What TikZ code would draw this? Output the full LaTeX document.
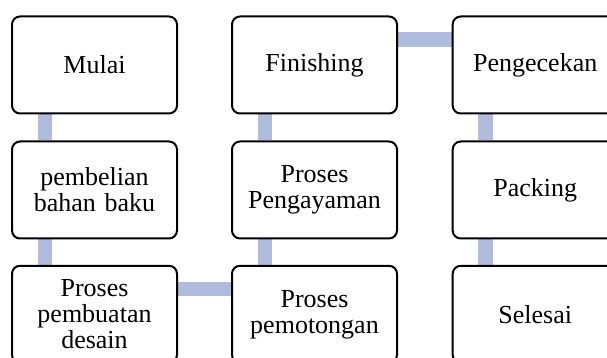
\documentclass[tikz,border=0pt]{standalone}
\usepackage{fontspec}
\setmainfont{Liberation Serif}
\usetikzlibrary{backgrounds}
\begin{document}
\begin{tikzpicture}[x=1pt,y=1pt,
  stepbox/.style={draw=black, line width=2pt, rounded corners=8pt, fill=white,
    minimum width=165pt, minimum height=97pt, inner sep=0pt,
    text width=160pt, align=center,
    font=\fontsize{26pt}{26pt}\selectfont},
  link/.style={draw={rgb,255:red,176;green,188;blue,222}, line width=14.4pt}]
  \useasboundingbox (0,0) rectangle (607,358);
  \clip (0,0) rectangle (607,358);

  % column 1
  \node[stepbox] (mulai)   at (94.5,293)   {Mulai};
  \node[stepbox] (beli)    at (94.5,168)   {pembelian\\bahan baku};
  \node[stepbox] (desain)  at (94.5,43.7)  {Proses\\pembuatan\\desain};
  % column 2
  \node[stepbox] (potong)  at (314.5,43.7) {Proses\\pemotongan};
  \node[stepbox] (ayam)    at (314.5,168)  {Proses\\Pengayaman};
  \node[stepbox] (finish)  at (314.5,293)  {Finishing};
  % column 3
  \node[stepbox] (cek)     at (535.2,293)  {Pengecekan};
  \node[stepbox] (pack)    at (535.2,168)  {Packing};
  \node[stepbox] (selesai) at (535.2,43.7) {Selesai};

  % connectors, kept behind the boxes
  \begin{scope}[on background layer]
    \path[link] ([xshift=33.7pt]mulai.south west) -- ([xshift=33.7pt]beli.north west);
    \path[link] ([xshift=33.7pt]beli.south west) -- ([xshift=33.7pt]desain.north west);
    \path[link] ([yshift=-24pt]desain.north east) -- ([yshift=-24pt]potong.north west);
    \path[link] ([xshift=33.7pt]potong.north west) -- ([xshift=33.7pt]ayam.south west);
    \path[link] ([xshift=33.7pt]ayam.north west) -- ([xshift=33.7pt]finish.south west);
    \path[link] ([yshift=-24pt]finish.north east) -- ([yshift=-24pt]cek.north west);
    \path[link] ([xshift=33.7pt]cek.south west) -- ([xshift=33.7pt]pack.north west);
    \path[link] ([xshift=33.7pt]pack.south west) -- ([xshift=33.7pt]selesai.north west);
  \end{scope}
\end{tikzpicture}
\end{document}
